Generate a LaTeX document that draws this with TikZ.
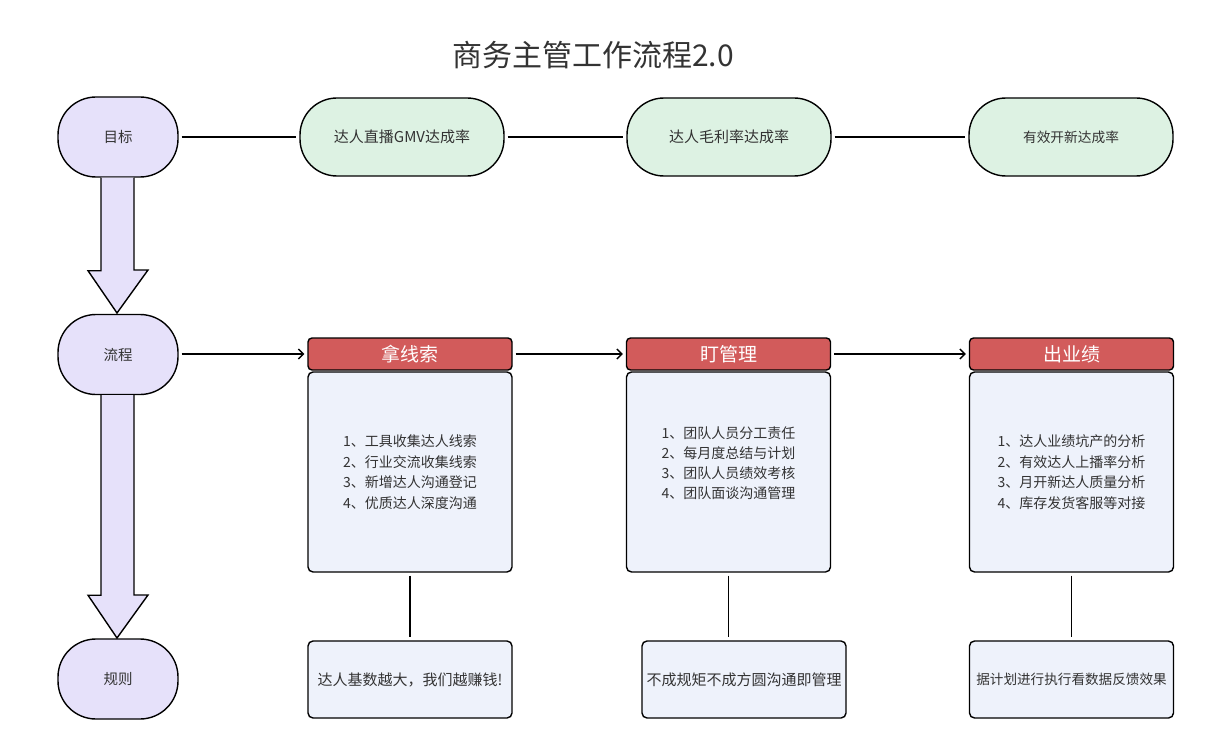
\documentclass[tikz,border=0pt]{standalone}
\usepackage{fontspec}
\setmainfont{Noto Sans CJK SC}
\usetikzlibrary{arrows.meta,calc}
\definecolor{lav}{HTML}{E6E1FA}
\definecolor{mint}{HTML}{DDF2E3}
\definecolor{redh}{HTML}{D25B5B}
\definecolor{paleblue}{HTML}{EEF2FB}
\definecolor{txt}{HTML}{333333}
\tikzset{
  base/.style={draw=black, line width=1.4pt, text=txt, font=\fontsize{15}{17}\selectfont, align=center, inner sep=0pt},
  lanebox/.style={base, fill=lav, minimum width=120pt, minimum height=80pt, rounded corners=38pt, font=\fontsize{14.5}{17}\selectfont},
  goalbox/.style={base, fill=mint, minimum width=204pt, minimum height=78pt, rounded corners=37pt},
  headbox/.style={base, fill=redh, text=white, minimum width=204pt, minimum height=32pt, rounded corners=4pt, font=\fontsize{19}{21}\selectfont},
  bodybox/.style={base, fill=paleblue, minimum width=204pt, minimum height=200pt, rounded corners=5pt},
  bodytext/.style={text=txt, align=left, inner sep=0pt, font=\fontsize{14}{20.5}\selectfont},
  notebox/.style={base, fill=paleblue, minimum width=204pt, minimum height=77pt, rounded corners=5pt},
  link/.style={line width=1.3pt, shorten <=3pt, shorten >=3pt},
  flow/.style={line width=1.3pt, -{Straight Barb[length=5pt,width=10pt]}, shorten <=3pt, shorten >=3pt},
  bigarrow/.style={draw=black, line width=1.4pt, fill=lav, line join=miter}
}
\begin{document}
\begin{tikzpicture}[x=1pt,y=-1pt]
\useasboundingbox (0,0) rectangle (1226,754);
\node[text=txt, font=\fontsize{30}{33}\selectfont] (title) at (593,55) {商务主管工作流程2.0};

\node[lanebox] (goal) at (118,137) {目标};
\node[lanebox] (proc) at (118,354.5) {流程};
\node[lanebox] (rule) at (118,679) {规则};

\node[goalbox] (g1) at (402,137) {达人直播GMV达成率};
\node[goalbox] (g2) at (729,137) {达人毛利率达成率};
\node[goalbox, font=\fontsize{13.7}{16}\selectfont] (g3) at (1071,137) {有效开新达成率};

\draw[link] (goal) -- (g1);
\draw[link] (g1) -- (g2);
\draw[link] (g2) -- (g3);

% big arrows
\draw[bigarrow] ($(goal.south)+(-17,0)$) -- ++(0,93) -- ++(-13,0) -- (117,313) -- (148,270) -- ++(-14,0) -- ($(goal.south)+(16,0)$);
\draw[bigarrow] ($(proc.south)+(-17,0)$) -- ++(0,200) -- ++(-13,0) -- (117,638) -- (148,595) -- ++(-14,0) -- ($(proc.south)+(16,0)$);

\node[headbox] (h1) at (410,354) {拿线索};
\node[headbox] (h2) at (728.5,354) {盯管理};
\node[headbox] (h3) at (1071.5,354) {出业绩};

\node[bodybox] (b1) at (410,472) {};
\node[bodybox] (b2) at (728.5,472) {};
\node[bodybox] (b3) at (1071.5,472) {};
\node[bodytext] (t1) at (410,472) {1、工具收集达人线索\\2、行业交流收集线索\\3、新增达人沟通登记\\4、优质达人深度沟通};
\node[bodytext, font=\fontsize{14}{20}\selectfont] (t2) at (728.5,463) {1、团队人员分工责任\\2、每月度总结与计划\\3、团队人员绩效考核\\4、团队面谈沟通管理};
\node[bodytext] (t3) at (1071.5,472) {1、达人业绩坑产的分析\\2、有效达人上播率分析\\3、月开新达人质量分析\\4、库存发货客服等对接};

\draw[flow] (proc.east |- h1.west) -- (h1.west);
\draw[flow] (h1.east) -- (h2.west);
\draw[flow] (h2.east) -- (h3.west);

\node[notebox] (n1) at (410,679.5) {达人基数越大，我们越赚钱!};
\node[notebox] (n2) at (744,679.5) {不成规矩不成方圆沟通即管理};
\node[notebox, font=\fontsize{13.6}{16}\selectfont] (n3) at (1071.5,679.5) {据计划进行执行看数据反馈效果};

\draw[link] (b1.south) -- (b1.south |- n1.north);
\draw[link] (b2.south) -- (b2.south |- n2.north);
\draw[link] (b3.south) -- (b3.south |- n3.north);
\end{tikzpicture}
\end{document}
